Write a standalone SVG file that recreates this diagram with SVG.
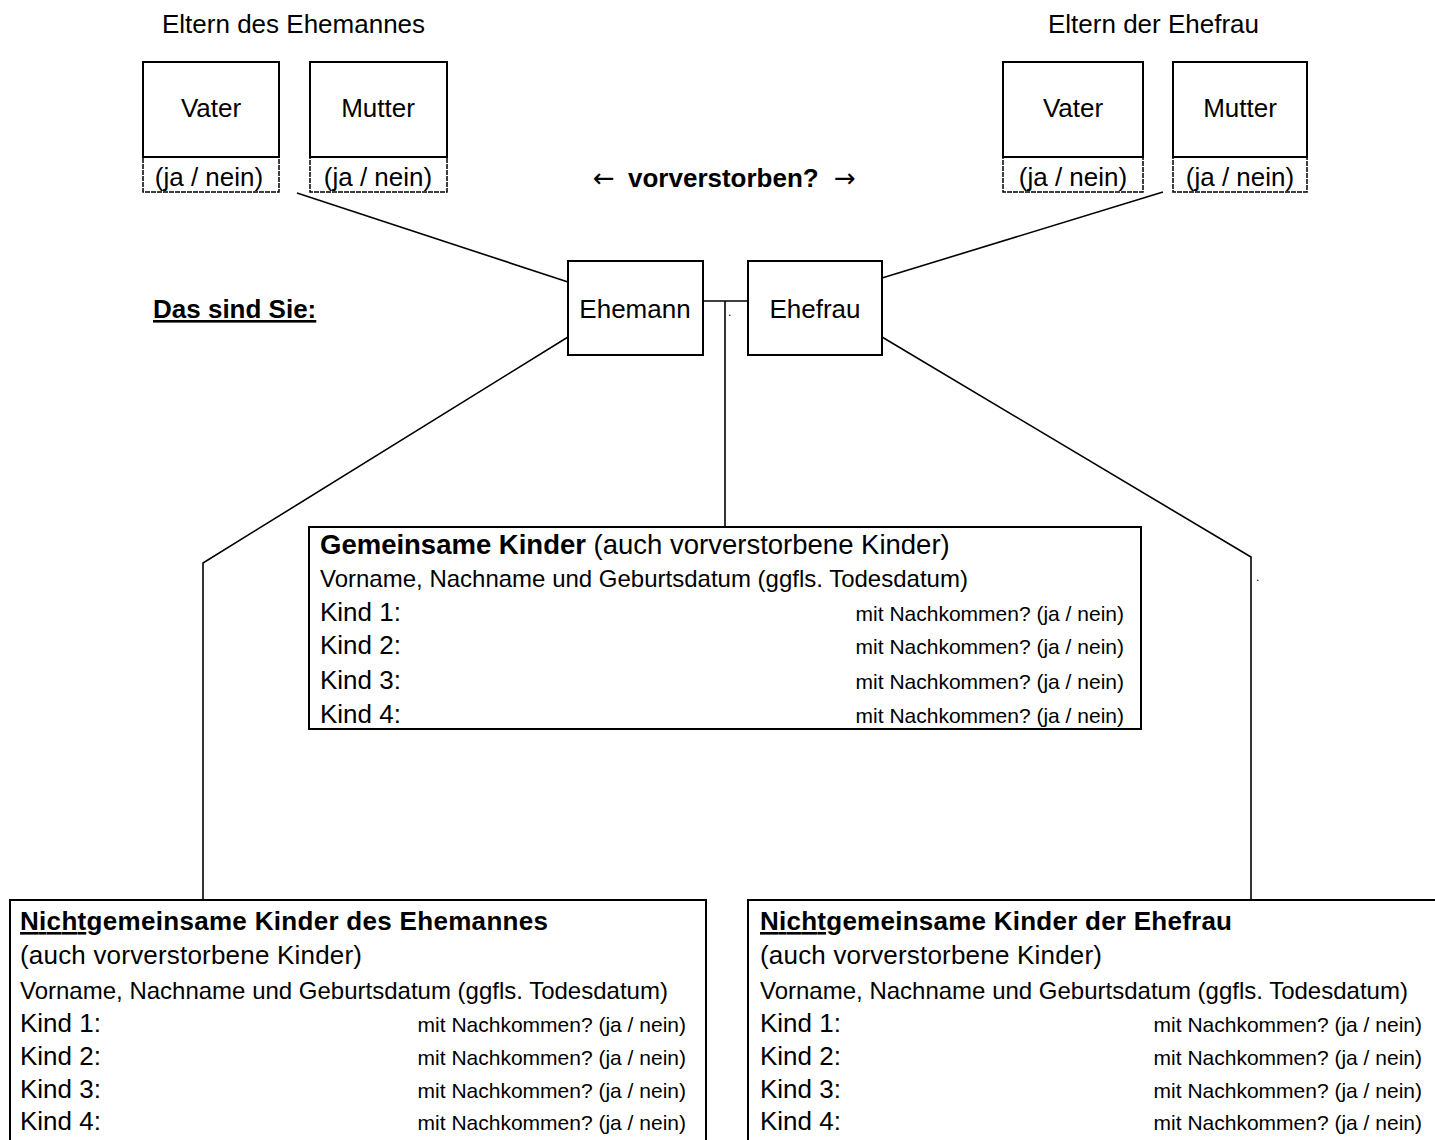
<svg xmlns="http://www.w3.org/2000/svg" width="1435" height="1140" viewBox="0 0 1435 1140">
<style>
text{font-family:"Liberation Sans",Arial,sans-serif;fill:#000}
.big{font-size:26px}
.mid{font-size:24px}
.sm{font-size:21px}
.b{font-weight:bold}
.c{text-anchor:middle}
.r{text-anchor:end}
.u{text-decoration:underline}
.arr{font-family:"DejaVu Sans",sans-serif;font-weight:normal}
.box{fill:#fff;stroke:#000;stroke-width:2}
.low{fill:#fff;stroke:#000;stroke-width:1.5;stroke-dasharray:5 1}
.ln{fill:none;stroke:#000;stroke-width:1.6}
</style>
<rect width="1435" height="1140" fill="#fff"/>
<g id="labels">
<text class="big" x="162" y="33">Eltern des Ehemannes</text>
<text class="big" x="1048" y="33">Eltern der Ehefrau</text>
<text class="big arr" x="593" y="187">←</text>
<text class="big b" x="628" y="187">vorverstorben?</text>
<text class="big arr" x="834" y="187">→</text>
<text class="big b u" x="153" y="318">Das sind Sie:</text>
</g>
<g id="connectors">
<line class="ln" x1="297" y1="193" x2="568" y2="282"/>
<line class="ln" x1="1163" y1="192" x2="882" y2="278"/>
<polyline class="ln" points="568,337 203,563 203,900"/>
<polyline class="ln" points="882,337 1251,557 1251,900"/>
<line class="ln" x1="703" y1="301" x2="748" y2="301"/>
<line class="ln" x1="725" y1="301" x2="725" y2="527"/>
<text x="728" y="316" style="font-size:12px">.</text>
<text x="1256" y="581" style="font-size:12px">.</text>
</g>
<g id="vater-ehemann">
<rect class="low" x="143" y="157" width="136" height="35"/>
<rect class="box" x="143" y="62" width="136" height="95"/>
<text class="big c" x="211" y="117">Vater</text>
<text class="big c" x="209" y="186">(ja / nein)</text>
</g>
<g id="mutter-ehemann">
<rect class="low" x="310" y="157" width="137" height="35"/>
<rect class="box" x="310" y="62" width="137" height="95"/>
<text class="big c" x="378" y="117">Mutter</text>
<text class="big c" x="378" y="186">(ja / nein)</text>
</g>
<g id="vater-ehefrau">
<rect class="low" x="1003" y="157" width="140" height="35"/>
<rect class="box" x="1003" y="62" width="140" height="95"/>
<text class="big c" x="1073" y="117">Vater</text>
<text class="big c" x="1073" y="186">(ja / nein)</text>
</g>
<g id="mutter-ehefrau">
<rect class="low" x="1173" y="157" width="134" height="35"/>
<rect class="box" x="1173" y="62" width="134" height="95"/>
<text class="big c" x="1240" y="117">Mutter</text>
<text class="big c" x="1240" y="186">(ja / nein)</text>
</g>
<g id="ehemann">
<rect class="box" x="568" y="261" width="135" height="94"/>
<text class="big c" x="635" y="318">Ehemann</text>
</g>
<g id="ehefrau">
<rect class="box" x="748" y="261" width="134" height="94"/>
<text class="big c" x="815" y="318">Ehefrau</text>
</g>
<g id="gemeinsame-kinder">
<rect class="box" x="309" y="527" width="832" height="202"/>
<text x="320" y="554" style="font-size:27.5px"><tspan class="b">Gemeinsame Kinder</tspan> (auch vorverstorbene Kinder)</text>
<text class="mid" x="320" y="587">Vorname, Nachname und Geburtsdatum (ggfls. Todesdatum)</text>
<text class="big" x="320" y="621">Kind 1:</text>
<text class="big" x="320" y="654">Kind 2:</text>
<text class="big" x="320" y="689">Kind 3:</text>
<text class="big" x="320" y="723">Kind 4:</text>
<text class="sm r" x="1124" y="621">mit Nachkommen? (ja / nein)</text>
<text class="sm r" x="1124" y="654">mit Nachkommen? (ja / nein)</text>
<text class="sm r" x="1124" y="689">mit Nachkommen? (ja / nein)</text>
<text class="sm r" x="1124" y="723">mit Nachkommen? (ja / nein)</text>
</g>
<g id="kinder-ehemann">
<rect class="box" x="10" y="900" width="696" height="260"/>
<text class="big b" x="20" y="930" textLength="528" lengthAdjust="spacing"><tspan class="u">Nicht</tspan>gemeinsame Kinder des Ehemannes</text>
<text class="big" x="20" y="964" textLength="342" lengthAdjust="spacing">(auch vorverstorbene Kinder)</text>
<text class="mid" x="20" y="999">Vorname, Nachname und Geburtsdatum (ggfls. Todesdatum)</text>
<text class="big" x="20" y="1032">Kind 1:</text>
<text class="big" x="20" y="1065">Kind 2:</text>
<text class="big" x="20" y="1098">Kind 3:</text>
<text class="big" x="20" y="1130">Kind 4:</text>
<text class="sm r" x="686" y="1032">mit Nachkommen? (ja / nein)</text>
<text class="sm r" x="686" y="1065">mit Nachkommen? (ja / nein)</text>
<text class="sm r" x="686" y="1098">mit Nachkommen? (ja / nein)</text>
<text class="sm r" x="686" y="1130">mit Nachkommen? (ja / nein)</text>
</g>
<g id="kinder-ehefrau">
<rect class="box" x="748" y="900" width="700" height="260"/>
<text class="big b" x="760" y="930" textLength="472" lengthAdjust="spacing"><tspan class="u">Nicht</tspan>gemeinsame Kinder der Ehefrau</text>
<text class="big" x="760" y="964" textLength="342" lengthAdjust="spacing">(auch vorverstorbene Kinder)</text>
<text class="mid" x="760" y="999">Vorname, Nachname und Geburtsdatum (ggfls. Todesdatum)</text>
<text class="big" x="760" y="1032">Kind 1:</text>
<text class="big" x="760" y="1065">Kind 2:</text>
<text class="big" x="760" y="1098">Kind 3:</text>
<text class="big" x="760" y="1130">Kind 4:</text>
<text class="sm r" x="1422" y="1032">mit Nachkommen? (ja / nein)</text>
<text class="sm r" x="1422" y="1065">mit Nachkommen? (ja / nein)</text>
<text class="sm r" x="1422" y="1098">mit Nachkommen? (ja / nein)</text>
<text class="sm r" x="1422" y="1130">mit Nachkommen? (ja / nein)</text>
</g>
</svg>
